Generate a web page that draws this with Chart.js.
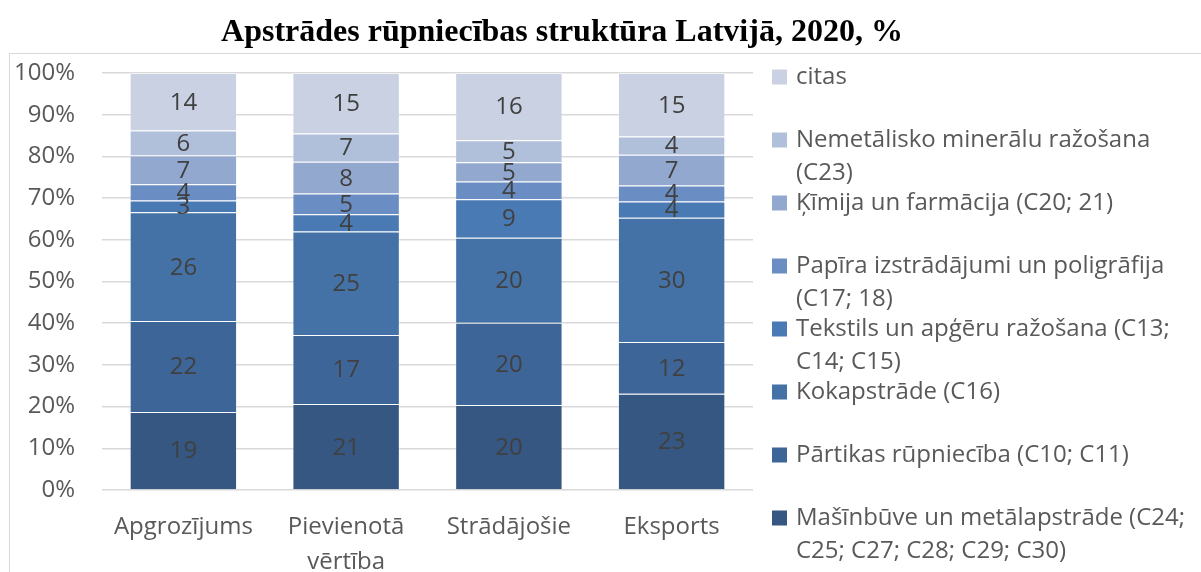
<!DOCTYPE html>
<html>
<head>
<meta charset="utf-8">
<script src="https://cdn.jsdelivr.net/npm/chart.js@4/dist/chart.umd.min.js"></script>
<style>
  html, body { margin: 0; padding: 0; background: #fff; }
  #wrap { width: 1201px; height: 572px; }
</style>
</head>
<body>
<div id="wrap"><canvas id="chart" width="1201" height="572"></canvas></div>
<script>
const categories = ['Apgrozījums', ['Pievienotā', 'vērtība'], 'Strādājošie', 'Eksports']

// series, bottom to top (shares in %)
const seriesNames = [
  'Mašīnbūve un metālapstrāde (C24; C25; C27; C28; C29; C30)',
  'Pārtikas rūpniecība (C10; C11)',
  'Kokapstrāde (C16)',
  'Tekstils un apģēru ražošana (C13; C14; C15)',
  'Papīra izstrādājumi un poligrāfija (C17; 18)',
  'Ķīmija un farmācija (C20; 21)',
  'Nemetālisko minerālu ražošana (C23)',
  'citas'
]
const masinbuve = [18.7, 20.6, 20.4, 23.1]
const partika = [21.8, 16.6, 19.7, 12.4]
const koks = [26.1, 24.8, 20.4, 29.8]
const tekstils = [2.8, 4.1, 9.2, 3.9]
const papirs = [3.9, 5.0, 4.3, 3.8]
const kimija = [6.9, 7.6, 4.6, 7.4]
const nemetali = [6.0, 6.8, 5.3, 4.4]
const citas = [13.8, 14.5, 16.1, 15.2]

const seriesValues = [masinbuve, partika, koks, tekstils, papirs, kimija, nemetali, citas]
const seriesColors = ['#355782', '#3e6598', '#4472a6', '#4a7ab3', '#6a8ec3', '#93a8cf', '#b0bfda', '#c9d1e3']

const yTicks = [0, 10, 20, 30, 40, 50, 60, 70, 80, 90, 100]

const TEXT = '#595959'
const FONT = '"Open Sans", "Noto Sans", sans-serif'

const wrapText = (ctx, text, maxWidth) => {
  const words = text.split(' ')
  const lines = []
  let line = ''
  words.forEach(w => {
    const test = line ? line + ' ' + w : w
    if (ctx.measureText(test).width > maxWidth && line) {
      lines.push(line)
      line = w
    } else {
      line = test
    }
  })
  if (line) lines.push(line)
  return lines
}

// frame, title, value labels and the right-hand legend
const decorations = {
  id: 'decorations',
  beforeDraw: chart => {
    const ctx = chart.ctx
    ctx.save()
    ctx.strokeStyle = '#d9d9d9'
    ctx.lineWidth = 1
    ctx.strokeRect(9.5, 53.5, 1200, 530)
    ctx.restore()
  },
  afterDatasetsDraw: chart => {
    const ctx = chart.ctx
    ctx.save()
    ctx.fillStyle = '#404040'
    ctx.font = '24px ' + FONT
    ctx.textAlign = 'center'
    ctx.textBaseline = 'middle'
    chart.data.datasets.forEach((ds, i) => {
      chart.getDatasetMeta(i).data.forEach((bar, j) => {
        const p = bar.getCenterPoint()
        ctx.fillText(String(Math.round(ds.data[j])), p.x, p.y + 1)
      })
    })
    ctx.restore()
  },
  afterDraw: chart => {
    const ctx = chart.ctx
    ctx.save()
    // title
    ctx.fillStyle = '#000'
    ctx.font = 'bold 32px "Liberation Serif", "Times New Roman", serif'
    ctx.textAlign = 'center'
    ctx.textBaseline = 'middle'
    ctx.fillText('Apstrādes rūpniecības struktūra Latvijā, 2020, %', 562, 33)

    // legend, top item is the last series
    ctx.font = '24px ' + FONT
    ctx.textAlign = 'left'
    const n = seriesNames.length
    for (let k = 0; k < n; k++) {
      const idx = n - 1 - k
      const y = 77 + k * 63
      ctx.fillStyle = seriesColors[idx]
      ctx.fillRect(772, y - 7.5, 15, 15)
      ctx.fillStyle = TEXT
      wrapText(ctx, seriesNames[idx], 400).forEach((line, li) => {
        ctx.fillText(line, 796, y + li * 33)
      })
    }
    ctx.restore()
  }
}

new Chart(document.getElementById('chart'), {
  type: 'bar',
  data: {
    labels: categories,
    datasets: seriesNames.map((name, i) => ({
      label: name,
      data: seriesValues[i],
      backgroundColor: seriesColors[i],
      borderColor: 'rgba(255,255,255,0.35)',
      borderWidth: 1,
      barPercentage: 0.66,
      categoryPercentage: 1
    }))
  },
  options: {
    responsive: false,
    animation: false,
    layout: { padding: { top: 73, right: 448, left: 0, bottom: 0 } },
    plugins: {
      legend: { display: false },
      title: { display: false },
      tooltip: { enabled: false }
    },
    scales: {
      x: {
        stacked: true,
        grid: { display: false, drawTicks: false },
        border: { display: false },
        ticks: {
          color: TEXT,
          font: { family: FONT, size: 24, lineHeight: 1.45 },
          padding: 20,
          maxRotation: 0,
          autoSkip: false
        },
        afterFit: scale => { scale.height = 82 }
      },
      y: {
        stacked: true,
        min: 0,
        max: 100,
        afterBuildTicks: scale => { scale.ticks = yTicks.map(v => ({ value: v })) },
        grid: { color: '#d9d9d9', lineWidth: 1.5, drawTicks: false },
        border: { display: false },
        ticks: {
          color: TEXT,
          font: { family: FONT, size: 24 },
          padding: 27,
          callback: v => v + '%'
        },
        afterFit: scale => { scale.width = 102 }
      }
    }
  },
  plugins: [decorations]
})
</script>
</body>
</html>
